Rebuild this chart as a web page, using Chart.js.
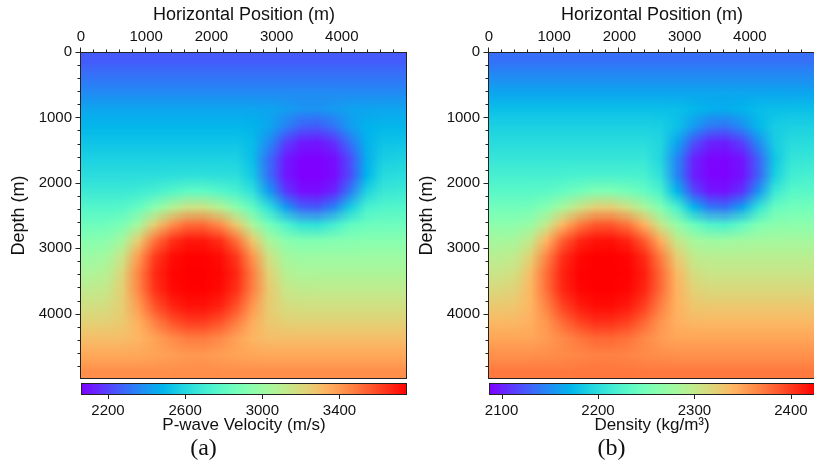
<!DOCTYPE html>
<html>
<head>
<meta charset="utf-8">
<script src="https://cdn.jsdelivr.net/npm/chart.js@4.4.1/dist/chart.umd.min.js"></script>
<style>
  html, body { margin: 0; padding: 0; background: #fff; overflow: hidden; }
  body { width: 814px; height: 472px; position: relative; }
  canvas { position: absolute; top: 0; }
  #velChart { left: 0; }
  #denChart { left: 408px; }
</style>
</head>
<body>
<canvas id="velChart" width="408" height="472"></canvas>
<canvas id="denChart" width="408" height="472"></canvas>
<script>
// model grid, cell centres in metres
const xCenters = [125, 375, 625, 875, 1125, 1375, 1625, 1875, 2125, 2375, 2625, 2875, 3125, 3375, 3625, 3875, 4125, 4375, 4625, 4875];
const depthCenters = [125, 375, 625, 875, 1125, 1375, 1625, 1875, 2125, 2375, 2625, 2875, 3125, 3375, 3625, 3875, 4125, 4375, 4625, 4875];

const positionTicks = [0, 1000, 2000, 3000, 4000];
const depthTicks = [0, 1000, 2000, 3000, 4000];

const velocityRange = [2060, 3750];
const velocityTicks = [2200, 2600, 3000, 3400];
const densityRange = [2087, 2425];
const densityTicks = [2100, 2200, 2300, 2400];

// P-wave velocity (m/s), one row per depth, one column per x
const velocity = [
  [2254, 2254, 2254, 2254, 2254, 2254, 2254, 2254, 2254, 2254, 2254, 2254, 2254, 2254, 2254, 2254, 2254, 2254, 2254, 2254],
  [2314, 2314, 2314, 2314, 2314, 2314, 2314, 2314, 2314, 2314, 2314, 2314, 2314, 2314, 2314, 2314, 2314, 2314, 2314, 2314],
  [2373, 2373, 2373, 2373, 2373, 2373, 2373, 2373, 2373, 2373, 2373, 2373, 2373, 2373, 2373, 2373, 2373, 2373, 2373, 2373],
  [2440, 2440, 2440, 2440, 2440, 2440, 2440, 2440, 2440, 2440, 2440, 2436, 2420, 2396, 2392, 2412, 2433, 2439, 2440, 2440],
  [2491, 2491, 2491, 2491, 2491, 2491, 2491, 2491, 2491, 2491, 2486, 2444, 2350, 2269, 2257, 2318, 2420, 2479, 2491, 2491],
  [2533, 2533, 2533, 2533, 2533, 2533, 2533, 2533, 2533, 2533, 2507, 2376, 2201, 2118, 2107, 2166, 2315, 2477, 2529, 2533],
  [2575, 2575, 2575, 2575, 2575, 2575, 2575, 2575, 2575, 2575, 2511, 2303, 2120, 2066, 2062, 2090, 2229, 2457, 2567, 2575],
  [2626, 2626, 2626, 2626, 2628, 2634, 2638, 2638, 2634, 2628, 2549, 2307, 2110, 2061, 2060, 2085, 2226, 2483, 2614, 2626],
  [2685, 2685, 2685, 2694, 2720, 2765, 2805, 2807, 2768, 2723, 2642, 2418, 2186, 2093, 2085, 2143, 2333, 2585, 2677, 2685],
  [2761, 2761, 2771, 2823, 2935, 3070, 3155, 3159, 3078, 2947, 2812, 2641, 2419, 2274, 2256, 2361, 2565, 2724, 2759, 2761],
  [2846, 2851, 2892, 3030, 3240, 3421, 3513, 3517, 3432, 3257, 3045, 2873, 2747, 2652, 2637, 2713, 2805, 2840, 2846, 2846],
  [2930, 2944, 3034, 3248, 3491, 3639, 3698, 3700, 3648, 3506, 3268, 3046, 2939, 2911, 2908, 2919, 2927, 2930, 2930, 2930],
  [2999, 3021, 3150, 3396, 3617, 3719, 3745, 3746, 3723, 3628, 3418, 3166, 3027, 2999, 2998, 2998, 2998, 2998, 2998, 2998],
  [3058, 3085, 3218, 3458, 3654, 3736, 3750, 3750, 3738, 3666, 3477, 3234, 3091, 3059, 3057, 3057, 3057, 3057, 3057, 3057],
  [3117, 3136, 3244, 3451, 3638, 3724, 3746, 3747, 3727, 3647, 3470, 3258, 3141, 3117, 3116, 3116, 3116, 3116, 3116, 3116],
  [3175, 3185, 3248, 3398, 3568, 3672, 3713, 3715, 3678, 3579, 3412, 3256, 3187, 3175, 3175, 3175, 3175, 3175, 3175, 3175],
  [3235, 3238, 3261, 3340, 3460, 3563, 3615, 3617, 3569, 3469, 3349, 3265, 3238, 3235, 3235, 3235, 3235, 3235, 3235, 3235],
  [3294, 3294, 3299, 3323, 3374, 3436, 3475, 3477, 3440, 3380, 3325, 3299, 3294, 3294, 3294, 3294, 3294, 3294, 3294, 3294],
  [3361, 3361, 3361, 3364, 3374, 3390, 3405, 3406, 3391, 3375, 3365, 3361, 3361, 3361, 3361, 3361, 3361, 3361, 3361, 3361],
  [3429, 3429, 3429, 3429, 3430, 3431, 3433, 3433, 3431, 3430, 3429, 3429, 3429, 3429, 3429, 3429, 3429, 3429, 3429, 3429]
];

// density (kg/m3), same grid
const density = [
  [2136, 2136, 2136, 2136, 2136, 2136, 2136, 2136, 2136, 2136, 2136, 2136, 2136, 2136, 2136, 2136, 2136, 2136, 2136, 2136],
  [2150, 2150, 2150, 2150, 2150, 2150, 2150, 2150, 2150, 2150, 2150, 2150, 2150, 2150, 2150, 2150, 2150, 2150, 2150, 2150],
  [2164, 2164, 2164, 2164, 2164, 2164, 2164, 2164, 2164, 2164, 2164, 2164, 2164, 2164, 2164, 2164, 2164, 2164, 2164, 2164],
  [2179, 2179, 2179, 2179, 2179, 2179, 2179, 2179, 2179, 2179, 2179, 2178, 2174, 2169, 2168, 2172, 2177, 2178, 2179, 2179],
  [2190, 2190, 2190, 2190, 2190, 2190, 2190, 2190, 2190, 2190, 2189, 2180, 2158, 2140, 2137, 2151, 2174, 2187, 2190, 2190],
  [2199, 2199, 2199, 2199, 2199, 2199, 2199, 2199, 2199, 2199, 2194, 2164, 2123, 2103, 2100, 2115, 2150, 2187, 2198, 2199],
  [2208, 2208, 2208, 2208, 2208, 2208, 2208, 2208, 2208, 2208, 2194, 2148, 2103, 2090, 2089, 2096, 2130, 2182, 2206, 2208],
  [2219, 2219, 2219, 2219, 2220, 2221, 2222, 2222, 2221, 2220, 2203, 2148, 2101, 2089, 2088, 2095, 2129, 2188, 2216, 2219],
  [2231, 2231, 2231, 2233, 2239, 2248, 2256, 2256, 2249, 2239, 2222, 2174, 2120, 2097, 2095, 2109, 2154, 2210, 2230, 2231],
  [2247, 2247, 2249, 2260, 2282, 2307, 2323, 2324, 2309, 2284, 2257, 2222, 2174, 2141, 2136, 2161, 2206, 2240, 2247, 2247],
  [2264, 2265, 2273, 2300, 2339, 2371, 2387, 2387, 2373, 2342, 2303, 2270, 2244, 2225, 2221, 2237, 2256, 2263, 2264, 2264],
  [2281, 2283, 2301, 2340, 2383, 2408, 2417, 2418, 2409, 2385, 2344, 2303, 2282, 2277, 2276, 2279, 2280, 2281, 2281, 2281],
  [2294, 2298, 2322, 2366, 2404, 2421, 2425, 2425, 2422, 2406, 2370, 2325, 2299, 2294, 2294, 2294, 2294, 2294, 2294, 2294],
  [2305, 2310, 2335, 2377, 2410, 2424, 2426, 2426, 2424, 2412, 2380, 2338, 2312, 2305, 2305, 2305, 2305, 2305, 2305, 2305],
  [2316, 2320, 2339, 2376, 2408, 2422, 2425, 2425, 2422, 2409, 2379, 2342, 2321, 2316, 2316, 2316, 2316, 2316, 2316, 2316],
  [2327, 2329, 2340, 2367, 2396, 2413, 2420, 2420, 2414, 2398, 2369, 2342, 2329, 2327, 2327, 2327, 2327, 2327, 2327, 2327],
  [2338, 2338, 2343, 2357, 2378, 2395, 2404, 2404, 2396, 2379, 2358, 2343, 2338, 2338, 2338, 2338, 2338, 2338, 2338, 2338],
  [2349, 2349, 2349, 2354, 2363, 2373, 2380, 2380, 2374, 2364, 2354, 2349, 2349, 2349, 2349, 2349, 2349, 2349, 2349, 2349],
  [2360, 2360, 2360, 2361, 2363, 2365, 2368, 2368, 2366, 2363, 2361, 2360, 2360, 2360, 2360, 2360, 2360, 2360, 2360, 2360],
  [2372, 2372, 2372, 2372, 2372, 2373, 2373, 2373, 2373, 2372, 2372, 2372, 2372, 2372, 2372, 2372, 2372, 2372, 2372, 2372]
];

Chart.defaults.font.family = "'Liberation Sans', Arial, sans-serif";
Chart.defaults.color = '#111';

const frameColor = '#222';
const minorStep = 200;

// purple -> blue -> cyan -> green -> orange -> red
function rainbow(t) {
  t = Math.min(1, Math.max(0, t));
  const r = Math.min(1, Math.abs(2 * t - 0.5));
  const g = Math.sin(Math.PI * t);
  const b = Math.cos(Math.PI * t / 2);
  return [Math.round(r * 255), Math.round(g * 255), Math.round(b * 255)];
}

// fixed box sizes so both panels line up; no extra room for overhanging labels
const fixSize = (prop, size) => s => {
  s[prop] = size;
  s.paddingLeft = s.paddingRight = s.paddingTop = s.paddingBottom = 0;
};

function makePanel(canvasId, values, range, cbTicks, cbTitle, tag) {
  const [lo, hi] = range;

  const heatmap = {
    id: 'heatmap',
    beforeDatasetsDraw(chart) {
      const {ctx, scales: {x, y}} = chart;
      const nx = xCenters.length, ny = depthCenters.length;
      const img = document.createElement('canvas');
      img.width = nx;
      img.height = ny;
      const ictx = img.getContext('2d');
      const pix = ictx.createImageData(nx, ny);
      values.forEach((row, j) => row.forEach((v, i) => {
        const c = rainbow((v - lo) / (hi - lo));
        const k = (j * nx + i) * 4;
        pix.data[k] = c[0];
        pix.data[k + 1] = c[1];
        pix.data[k + 2] = c[2];
        pix.data[k + 3] = 255;
      }));
      ictx.putImageData(pix, 0, 0);

      const hx = (xCenters[1] - xCenters[0]) / 2;
      const hz = (depthCenters[1] - depthCenters[0]) / 2;
      const left = x.getPixelForValue(xCenters[0] - hx);
      const right = x.getPixelForValue(xCenters[nx - 1] + hx);
      const top = y.getPixelForValue(depthCenters[0] - hz);
      const bottom = y.getPixelForValue(depthCenters[ny - 1] + hz);
      ctx.save();
      ctx.imageSmoothingEnabled = true;
      ctx.drawImage(img, left, top, right - left, bottom - top);
      ctx.restore();
    }
  };

  const frame = {
    id: 'frame',
    afterDraw(chart) {
      const {ctx, chartArea: a, scales: {x, y, cb}} = chart;
      ctx.save();
      ctx.strokeStyle = frameColor;
      ctx.lineWidth = 1;
      ctx.strokeRect(a.left - 0.5, a.top + 0.5, a.right - a.left, a.bottom - a.top - 1);

      ctx.beginPath();
      for (let v = 0; v < x.max; v += minorStep) {
        const px = Math.round(x.getPixelForValue(v)) - 0.5;
        const len = v % 1000 === 0 ? 5 : 3;
        ctx.moveTo(px, a.top + 0.5);
        ctx.lineTo(px, a.top + 0.5 - len);
      }
      for (let v = 0; v < y.max; v += minorStep) {
        const py = Math.round(y.getPixelForValue(v)) + 0.5;
        const len = v % 1000 === 0 ? 5 : 3;
        ctx.moveTo(a.left - 0.5, py);
        ctx.lineTo(a.left - 0.5 - len, py);
      }
      ctx.stroke();

      // colour bar
      const top = Math.round(a.bottom) + 4;
      const h = 12;
      for (let px = Math.round(cb.left); px < Math.round(cb.right); px++) {
        const c = rainbow((cb.getValueForPixel(px + 0.5) - lo) / (hi - lo));
        ctx.fillStyle = `rgb(${c[0]},${c[1]},${c[2]})`;
        ctx.fillRect(px, top, 1, h);
      }
      ctx.strokeRect(Math.round(cb.left) + 0.5, top + 0.5, Math.round(cb.right) - Math.round(cb.left) - 1, h - 1);
      ctx.beginPath();
      cbTicks.forEach(v => {
        const px = Math.round(cb.getPixelForValue(v)) + 0.5;
        ctx.moveTo(px, top + h);
        ctx.lineTo(px, top + h + 4);
      });
      ctx.stroke();
      ctx.restore();
    }
  };

  const tickList = list => scale => { scale.ticks = list.map(value => ({value})); };

  return new Chart(document.getElementById(canvasId), {
    type: 'scatter',
    data: {datasets: []},
    options: {
      responsive: false,
      animation: false,
      layout: {padding: {left: 0, right: 1, top: 0, bottom: 0}},
      scales: {
        x: {
          type: 'linear',
          position: 'top',
          min: 0,
          max: 5000,
          afterBuildTicks: tickList(positionTicks),
          afterFit: fixSize('height', 52),
          grid: {display: false, drawTicks: false},
          border: {display: false},
          ticks: {font: {size: 15}, padding: 6.5, maxRotation: 0, callback: v => String(v)},
          title: {display: true, text: 'Horizontal Position (m)', font: {size: 18}, padding: {top: 4, bottom: 0}}
        },
        y: {
          type: 'linear',
          position: 'left',
          reverse: true,
          min: 0,
          max: 5000,
          afterBuildTicks: tickList(depthTicks),
          afterFit: fixSize('width', 81),
          grid: {display: false, drawTicks: false},
          border: {display: false},
          ticks: {font: {size: 15}, padding: 9, callback: v => String(v)},
          title: {display: true, text: 'Depth (m)', font: {size: 18}, padding: {top: 8, bottom: 0}}
        },
        cb: {
          type: 'linear',
          axis: 'x',
          position: 'bottom',
          min: lo,
          max: hi,
          afterBuildTicks: tickList(cbTicks),
          afterFit: fixSize('height', 54.9),
          grid: {display: false, drawTicks: false},
          border: {display: false},
          ticks: {font: {size: 15}, padding: 23, maxRotation: 0, callback: v => String(v)},
          title: {display: true, text: cbTitle, font: {size: 17}, padding: {top: 0, bottom: -1.5}}
        }
      },
      plugins: {
        legend: {display: false},
        tooltip: {enabled: false},
        title: {
          display: true,
          text: tag,
          position: 'bottom',
          color: '#111',
          font: {family: "'Liberation Serif', 'Times New Roman', serif", size: 24, weight: 'normal'},
          padding: {top: 0, bottom: 9.3}
        }
      }
    },
    plugins: [heatmap, frame]
  });
}

makePanel('velChart', velocity, velocityRange, velocityTicks, 'P-wave Velocity (m/s)', '(a)');
makePanel('denChart', density, densityRange, densityTicks, 'Density (kg/m³)', '(b)');
</script>
</body>
</html>
